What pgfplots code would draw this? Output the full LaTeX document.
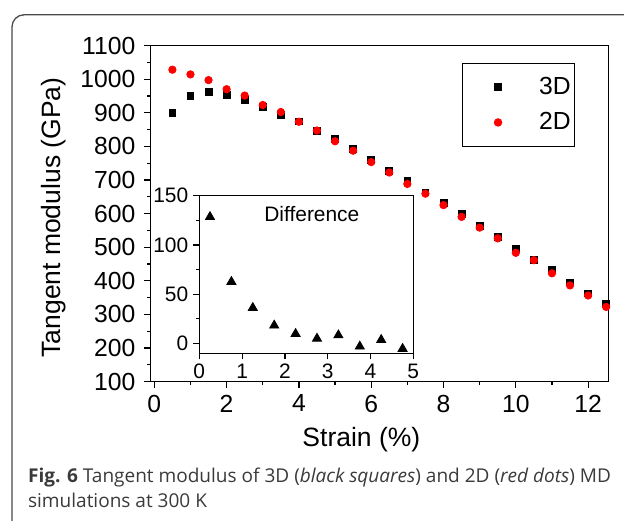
\documentclass[border=0pt]{standalone}
\usepackage{pgfplots}
\pgfplotsset{compat=1.18}
\usepackage{fontspec}
\setmainfont{Liberation Sans}
\newfontfamily\capfont{Open Sans}
\definecolor{capgray}{HTML}{3A3A3A}
\definecolor{framegray}{HTML}{4A4A4A}

\begin{document}
\begin{tikzpicture}
% page = 624 x 521 px, 1 px = 0.5bp, origin top left
\useasboundingbox (0,0) rectangle (312bp,-260.5bp);
\clip (0,0) rectangle (312bp,-260.5bp);
\draw[framegray, line width=0.65bp, rounded corners=6bp]
  (6bp,-275bp) -- (6bp,-7.4bp) -- (330bp,-7.4bp);

\begin{axis}[
  at={(75.35bp,-190.75bp)}, anchor=south west,
  scale only axis, width=229bp, height=168bp,
  xmin=-0.1, xmax=12.57, ymin=100, ymax=1100,
  xtick={0,2,...,12}, ytick={100,200,...,1100},
  minor x tick num=1, minor y tick num=1,
  tick align=outside, xtick pos=bottom, ytick pos=left,
  major tick length=3.2bp, minor tick length=1.8bp,
  axis line style={line width=0.6bp}, tick style={line width=0.6bp, black},
  /pgf/number format/assume math mode=true,
  /pgf/number format/1000 sep={},
  ticklabel style={font=\fontsize{12.4}{14}\selectfont},
  yticklabel style={xshift=-1bp},
  xlabel={Strain (\%)}, ylabel={Tangent modulus (GPa)},
  label style={font=\fontsize{13.3}{15}\selectfont},
  xlabel style={at={(axis description cs:0.46,0)}, anchor=base, yshift=-32.5bp},
  ylabel style={at={(axis description cs:0,0.488)}, anchor=base, yshift=45bp},
  legend style={at={(axis description cs:0.680,0.949)}, anchor=north west,
    draw=black, line width=0.5bp, inner xsep=0bp, inner ysep=5bp,
    font=\fontsize{12.4}{14}\selectfont, row sep=3.5bp,
    cells={anchor=west}},
  legend image code/.code={\path[draw=none, fill=none] (-17.7bp,0) -- (18.5bp,0);
    \draw[#1] plot coordinates {(0bp,0bp)};},
]
\addplot[only marks, mark=square*, mark size=1.7bp, black] coordinates {
(0.5,900)(1.0,950)(1.5,962)(2.0,953)(2.5,939)(3.0,918)(3.5,894)(4.0,874)
(4.5,845)(5.0,821)(5.5,792)(6.0,760)(6.5,727)(7.0,696)(7.5,663)(8.0,631)
(8.5,599)(9.0,562)(9.5,530)(10.0,496)(10.5,461)(11.0,431)(11.5,395)
(12.0,362)(12.5,330)};
\addplot[only marks, mark=*, mark size=1.85bp, red, mark options={draw=red, fill=red}] coordinates {
(0.5,1028)(1.0,1014)(1.5,997)(2.0,970)(2.5,951)(3.0,923)(3.5,902)(4.0,873)
(4.5,847)(5.0,815)(5.5,787)(6.0,753)(6.5,722)(7.0,688)(7.5,659)(8.0,625)
(8.5,590)(9.0,558)(9.5,526)(10.0,483)(10.5,461)(11.0,422)(11.5,386)
(12.0,356)(12.5,322)};
\legend{3D,2D}
\end{axis}

\begin{axis}[
  at={(99.65bp,-176.65bp)}, anchor=south west,
  scale only axis, width=107bp, height=78.8bp,
  xmin=0, xmax=5, ymin=-10, ymax=150,
  xtick={0,1,...,5}, ytick={0,50,100,150},
  minor y tick num=1,
  tick align=outside, xtick pos=bottom, ytick pos=left,
  major tick length=3bp, minor tick length=1.6bp,
  axis line style={line width=0.6bp}, tick style={line width=0.6bp, black},
  axis background/.style={fill=white},
  /pgf/number format/assume math mode=true,
  ticklabel style={font=\fontsize{10.5}{12}\selectfont},
  xticklabel style={yshift=1bp},
  yticklabel style={xshift=1bp},
]
\addplot[only marks, mark=triangle*, mark size=2.6bp, black] coordinates {
(0.25,128.5)(0.75,62.6)(1.25,36.2)(1.75,18.3)(2.25,9.8)(2.75,5.0)
(3.25,8.4)(3.75,-3.0)(4.25,3.7)(4.75,-5.4)};
\node[font=\fontsize{10.5}{12}\selectfont, anchor=center]
  at (axis description cs:0.526,0.885) {Difference};
\end{axis}

\node[anchor=base west, inner sep=0, text=capgray, font=\capfont\fontsize{9.55}{12}\selectfont]
  at (13.85bp,-241bp) {\textbf{Fig. 6} Tangent modulus of 3D (\textit{black squares}) and 2D (\textit{red dots}) MD};
\node[anchor=base west, inner sep=0, text=capgray, font=\capfont\fontsize{9.55}{12}\selectfont]
  at (13.85bp,-253.5bp) {simulations at 300 K};
\end{tikzpicture}
\end{document}
